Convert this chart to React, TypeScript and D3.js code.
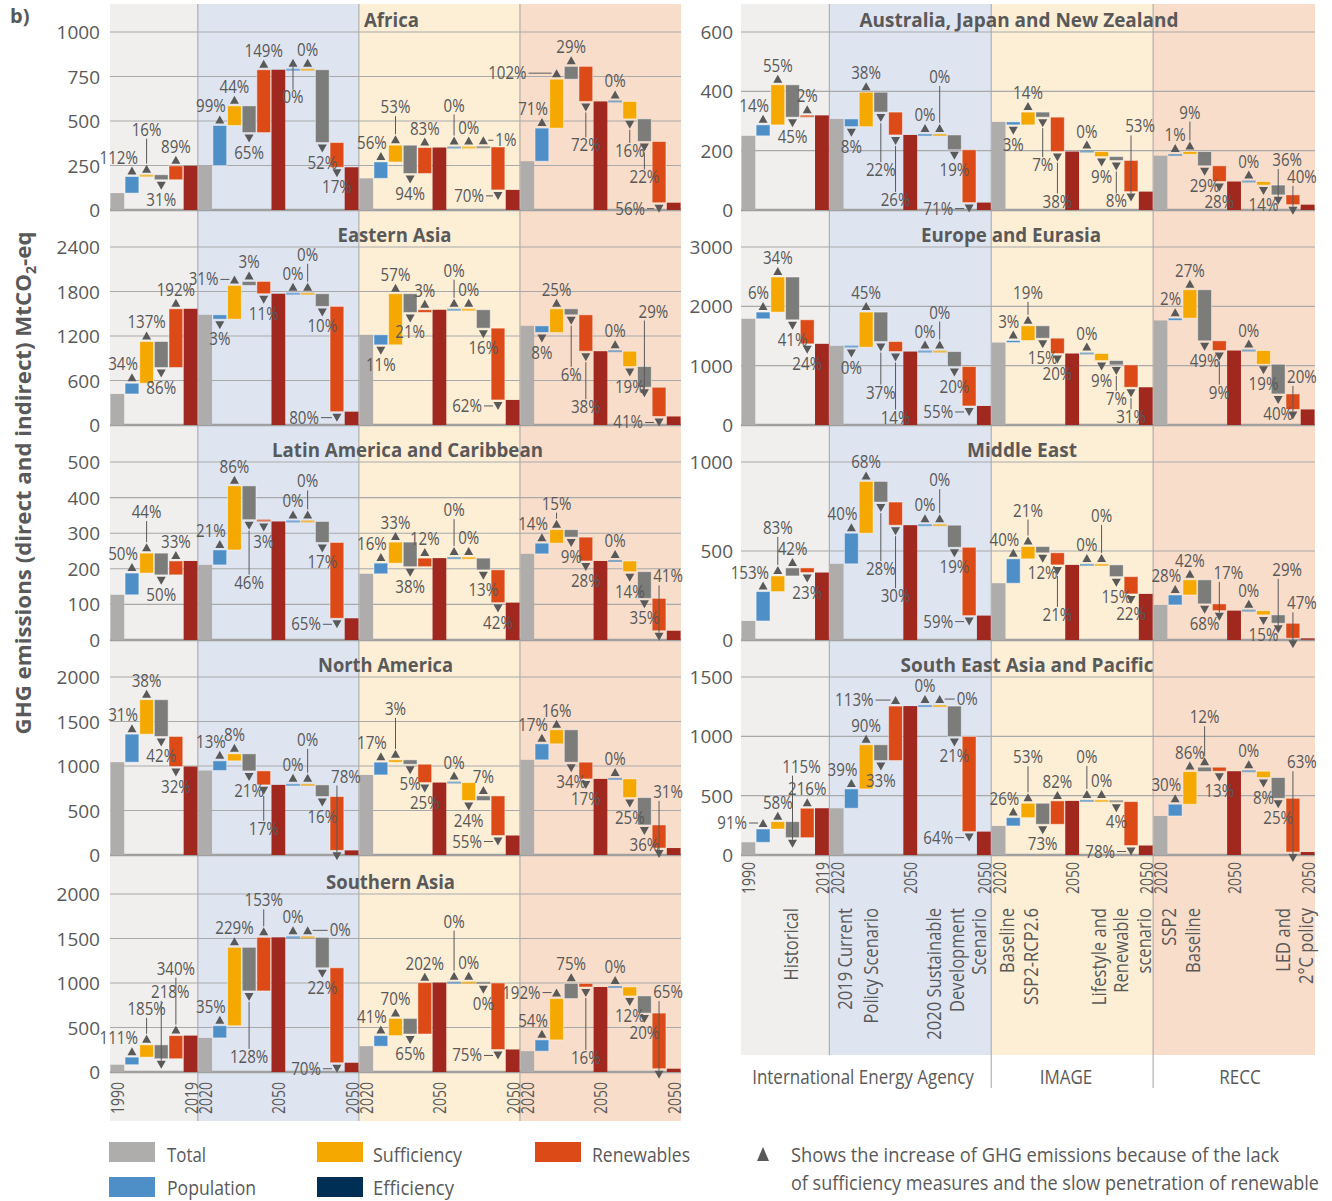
import React from "react";
import * as d3 from "d3";

const FONT = "'Open Sans', 'Noto Sans', 'DejaVu Sans', sans-serif";
const TEXT = "#595959";
const C_TOTAL = "#aeadab";
const C_POP = "#4f8fc8";
const C_SUFF = "#f5a800";
const C_EFF = "#7c7c7a";
const C_EFF_LEGEND = "#002f55";
const C_REN = "#dc4b17";
const C_END = "#a1281f";
const BG = ["#f0efed", "#dfe4f1", "#fdeed6", "#f8ddca"];
const GRID = "#a9a9a9";

// ---------------- categories / axis labels ----------------
const yearLabels = ["1990", "2019", "2020", "2050", "2050", "2020", "2050", "2050", "2020", "2050", "2050"];
const yearSlots = [0, 5, 6, 11, 16, 17, 22, 27, 28, 33, 38];
const modelLabels = ["International Energy Agency", "IMAGE", "RECC"];
const scenarioLines = [
  "Historical",
  "2019 Current", "Policy Scenario",
  "2020 Sustainable", "Development", "Scenario",
  "Baseline", "SSP2-RCP2.6",
  "Lifestyle and", "Renewable", "scenario",
  "SSP2", "Baseline",
  "LED and", "2°C policy",
];
const legendItems = ["Total", "Population", "Sufficiency", "Efficiency", "Renewables"];
const legendNote = [
  "Shows the increase of GHG emissions because of the lack",
  "of sufficiency measures and the slow penetration of renewable",
];

// ---------------- data (cumulative levels, MtCO2-eq) ----------------
// hist: [1990 total, +population, +sufficiency, +efficiency, +renewables = 2019]
// scenario: [2020, pop, suff, eff, ren(=2050 #1), pop, suff, eff, ren(=2050 #2)]
const africaTicks = [0, 250, 500, 750, 1000];
const africaHist = [95, 188, 198, 170, 248];
const africaIEA = [250, 475, 585, 435, 788, 788, 788, 379, 240];
const africaIMAGE = [178, 270, 364, 205, 351, 351, 351, 354, 113];
const africaRECC = [274, 460, 735, 807, 610, 610, 512, 385, 41];
const africaPct = [112, 16, 31, 89, 99, 44, 65, 149, 0, 0, 52, 17, 56, 53, 94, 83, 0, 0, 1, 70, 71, 102, 29, 72, 0, 16, 22, 56];

const eastAsiaTicks = [0, 600, 1200, 1800, 2400];
const eastAsiaHist = [419, 563, 1126, 775, 1567];
const eastAsiaIEA = [1486, 1427, 1882, 1936, 1770, 1770, 1770, 1599, 180];
const eastAsiaIMAGE = [1216, 1081, 1770, 1518, 1554, 1554, 1554, 1306, 338];
const eastAsiaRECC = [1337, 1247, 1567, 1486, 995, 995, 788, 509, 115];
const eastAsiaPct = [34, 137, 86, 192, 3, 31, 3, 11, 0, 0, 10, 80, 11, 57, 21, 3, 0, 0, 16, 62, 8, 25, 6, 38, 0, 19, 29, 41];

const latamTicks = [0, 100, 200, 300, 400, 500];
const latamHist = [127, 188, 244, 183, 222];
const latamIEA = [211, 253, 433, 338, 333, 333, 333, 274, 61];
const latamIMAGE = [186, 216, 275, 206, 230, 230, 230, 197, 105];
const latamRECC = [242, 272, 310, 289, 222, 222, 192, 117, 26];
const latamPct = [50, 44, 50, 33, 21, 86, 46, 3, 0, 0, 17, 65, 16, 33, 38, 12, 0, 0, 13, 42, 14, 15, 9, 28, 0, 14, 35, 41];

const northAmTicks = [0, 500, 1000, 1500, 2000];
const northAmHist = [1043, 1358, 1745, 1332, 994];
const northAmIEA = [949, 1058, 1137, 945, 788, 788, 788, 657, 52];
const northAmIMAGE = [900, 1043, 1069, 1020, 814, 814, 612, 664, 219];
const northAmRECC = [1069, 1249, 1407, 1043, 855, 855, 645, 338, 78];
const northAmPct = [31, 38, 42, 32, 13, 8, 21, 17, 0, 0, 16, 78, 17, 3, 5, 25, 0, 24, 7, 55, 17, 16, 34, 17, 0, 25, 36, 31];

const southAsiaTicks = [0, 500, 1000, 1500, 2000];
const southAsiaHist = [82, 167, 305, 149, 409];
const southAsiaIEA = [383, 520, 1401, 911, 1513, 1513, 1513, 1171, 104];
const southAsiaIMAGE = [290, 409, 602, 427, 1004, 1004, 1004, 1000, 253];
const southAsiaRECC = [234, 361, 825, 996, 955, 955, 855, 662, 37];
const southAsiaPct = [111, 185, 218, 340, 35, 229, 128, 153, 0, 0, 22, 70, 41, 70, 65, 202, 0, 0, 0, 75, 54, 192, 75, 16, 0, 12, 20, 65];

const ajnzTicks = [0, 200, 400, 600];
const ajnzHist = [250, 287, 422, 313, 319];
const ajnzIEA = [307, 281, 397, 330, 253, 253, 253, 203, 25];
const ajnzIMAGE = [297, 287, 330, 313, 197, 197, 180, 167, 62];
const ajnzRECC = [183, 188, 197, 149, 96, 96, 84, 51, 18];
const ajnzPct = [14, 55, 45, 2, 8, 38, 22, 26, 0, 0, 19, 71, 3, 14, 7, 38, 0, 9, 8, 53, 1, 9, 29, 28, 0, 14, 36, 40];

const europeTicks = [0, 1000, 2000, 3000];
const europeHist = [1790, 1903, 2494, 1773, 1368];
const europeIEA = [1334, 1311, 1903, 1407, 1238, 1238, 1238, 985, 321];
const europeIMAGE = [1390, 1424, 1672, 1463, 1205, 1205, 1086, 1013, 636];
const europeRECC = [1762, 1801, 2280, 1419, 1255, 1255, 1024, 524, 262];
const europePct = [6, 34, 41, 24, 0, 45, 37, 14, 0, 0, 20, 55, 3, 19, 15, 20, 0, 9, 7, 31, 2, 27, 49, 9, 0, 19, 40, 20];

const middleEastTicks = [0, 500, 1000];
const middleEastHist = [107, 272, 360, 405, 379];
const middleEastIEA = [428, 600, 891, 775, 645, 645, 645, 521, 137];
const middleEastIMAGE = [319, 456, 525, 490, 422, 422, 422, 356, 259];
const middleEastRECC = [197, 253, 338, 203, 165, 165, 141, 94, 10];
const middleEastPct = [153, 83, 42, 23, 40, 68, 28, 30, 0, 0, 19, 59, 40, 21, 12, 21, 0, 0, 15, 22, 28, 42, 68, 17, 0, 15, 29, 47];

const seaTicks = [0, 500, 1000, 1500];
const seaHist = [107, 219, 281, 146, 394];
const seaIEA = [394, 557, 929, 796, 1255, 1255, 1255, 999, 197];
const seaIMAGE = [245, 315, 436, 259, 456, 456, 456, 450, 80];
const seaRECC = [329, 428, 703, 740, 706, 706, 653, 478, 25];
const seaPct = [91, 58, 115, 216, 39, 90, 33, 113, 0, 0, 21, 64, 26, 53, 73, 82, 0, 0, 4, 78, 30, 86, 12, 13, 0, 8, 25, 63];

// ---------------- label layout (placement codes, not data) ----------------
const africaPos = ["l", "A25", "b", "a", "l", "a", "b", "a", "b19", "a", "b", "b", "l", "A18", "b", "a", "A21", "a", "R12", "L14", "l", "L30", "a", "B25", "a", "B13", "B17", "L14"];
const eastAsiaPos = ["l", "a", "b", "a", "b", "L", "a", "b", "a", "A18", "b", "L18", "b", "a", "b", "a", "A18", "a", "b", "L", "b", "a", "B41", "B37", "a", "b", "a41", "L"];
const latamPos = ["l", "A21", "b", "a", "l", "a", "B44", "b", "a", "A19", "b", "L", "l", "a", "b", "a", "A27", "a", "b", "b", "l", "A6", "b", "b", "a", "b", "b", "a8"];
const northAmPos = ["l", "a", "b", "b", "l", "a", "b", "B25", "a", "A24", "b", "a6", "l", "A31", "b", "b", "a", "b", "a", "L", "l", "a", "b", "b", "a", "b", "b", "a19"];
const southAsiaPos = ["l", "A16", "a39", "A47", "l", "a", "B47", "A17", "a", "R22", "b", "L", "l", "a", "b", "a", "A40", "a", "b", "L", "l", "L", "a", "B52", "a", "b", "b", "a7"];
const ajnzPos = ["l", "a", "b", "a", "b", "a", "B39", "B46", "a", "A37", "b", "L", "b", "a", "B29", "B31", "a", "b", "B22", "a20", "a", "A19", "b", "b", "a", "b", "a11", "a4"];
const europePos = ["l", "a", "b", "b", "b", "a", "B32", "B47", "a", "A18", "b", "L", "l", "A13", "b", "b", "a", "b", "B15", "B11", "l", "a", "b", "B23", "a", "b", "b", "a3"];
const middleEastPos = ["l", "A28", "a", "b", "l", "a", "B48", "B52", "a", "A24", "b", "L", "l", "A16", "b", "B31", "a", "A28", "b", "b", "l", "a", "b", "a17", "a", "b", "a31", "a6"];
const seaPos = ["L", "a", "a41", "a", "l", "a", "b", "L22", "a", "R17", "b", "L", "l", "A26", "b", "a", "A23", "a", "b", "L", "l", "a", "A30", "b", "a", "b", "b", "a22"];

const panels = [
  { name: "Africa", col: 0, row: 0, ticks: africaTicks, hist: africaHist, iea: africaIEA, image: africaIMAGE, recc: africaRECC, pct: africaPct, pos: africaPos, tdx: -4, tlen: 55 },
  { name: "Eastern Asia", col: 0, row: 1, ticks: eastAsiaTicks, hist: eastAsiaHist, iea: eastAsiaIEA, image: eastAsiaIMAGE, recc: eastAsiaRECC, pct: eastAsiaPct, pos: eastAsiaPos, tdx: -1, tlen: 114 },
  { name: "Latin America and Caribbean", col: 0, row: 2, ticks: latamTicks, hist: latamHist, iea: latamIEA, image: latamIMAGE, recc: latamRECC, pct: latamPct, pos: latamPos, tdx: 12, tlen: 271 },
  { name: "North America", col: 0, row: 3, ticks: northAmTicks, hist: northAmHist, iea: northAmIEA, image: northAmIMAGE, recc: northAmRECC, pct: northAmPct, pos: northAmPos, tdx: -10, tlen: 135 },
  { name: "Southern Asia", col: 0, row: 4, ticks: southAsiaTicks, hist: southAsiaHist, iea: southAsiaIEA, image: southAsiaIMAGE, recc: southAsiaRECC, pct: southAsiaPct, pos: southAsiaPos, tdx: -5, tlen: 129 },
  { name: "Australia, Japan and New Zealand", col: 1, row: 0, ticks: ajnzTicks, hist: ajnzHist, iea: ajnzIEA, image: ajnzIMAGE, recc: ajnzRECC, pct: ajnzPct, pos: ajnzPos, tdx: -9, tlen: 319 },
  { name: "Europe and Eurasia", col: 1, row: 1, ticks: europeTicks, hist: europeHist, iea: europeIEA, image: europeIMAGE, recc: europeRECC, pct: europePct, pos: europePos, tdx: -17, tlen: 180 },
  { name: "Middle East", col: 1, row: 2, ticks: middleEastTicks, hist: middleEastHist, iea: middleEastIEA, image: middleEastIMAGE, recc: middleEastRECC, pct: middleEastPct, pos: middleEastPos, tdx: -6, tlen: 110 },
  { name: "South East Asia and Pacific", col: 1, row: 3, ticks: seaTicks, hist: seaHist, iea: seaIEA, image: seaIMAGE, recc: seaRECC, pct: seaPct, pos: seaPos, tdx: -1, tlen: 253 },
];

// ---------------- layout ----------------
const W = 1332;
const H = 1201;
const ROW_TOP = [32, 247, 462, 677, 894];
const PANEL_H = 178;
const COLS = [
  { x0: 110, x1: 681, tickX: 100, bgBottom: 1121 },
  { x0: 741, x1: 1315, tickX: 733, bgBottom: 1055 },
];
const N_SLOTS = 39;
const SECTION_START = [0, 6, 17, 28];
const PAD_IN = 0.06;

function makeX(col: number) {
  const c = COLS[col];
  return d3.scaleBand<number>().domain(d3.range(N_SLOTS)).range([c.x0, c.x1]).paddingInner(PAD_IN).paddingOuter(PAD_IN / 2);
}

function boundaries(col: number) {
  const x = makeX(col);
  const c = COLS[col];
  const step = x.step();
  const b = SECTION_START.slice(1).map((s) => (x(s) as number) - (step * PAD_IN) / 2);
  return [c.x0, ...b, c.x1];
}

const KIND_COLOR: Record<string, string> = {
  total: C_TOTAL,
  pop: C_POP,
  suff: C_SUFF,
  eff: C_EFF,
  ren: C_REN,
  end: C_END,
};

function buildBars(p: any) {
  const out: any[] = [];
  const kinds = ["pop", "suff", "eff", "ren"];
  const h = p.hist;
  out.push({ slot: 0, a: 0, b: h[0], kind: "total" });
  for (let k = 0; k < 4; k++) out.push({ slot: 1 + k, a: h[k], b: h[k + 1], kind: kinds[k], change: true });
  out.push({ slot: 5, a: 0, b: h[4], kind: "end" });
  [p.iea, p.image, p.recc].forEach((s: number[], si: number) => {
    const o = 6 + si * 11;
    out.push({ slot: o, a: 0, b: s[0], kind: "total" });
    for (let k = 0; k < 4; k++) out.push({ slot: o + 1 + k, a: s[k], b: s[k + 1], kind: kinds[k], change: true });
    out.push({ slot: o + 5, a: 0, b: s[4], kind: "end" });
    for (let k = 0; k < 4; k++) out.push({ slot: o + 6 + k, a: s[4 + k], b: s[5 + k], kind: kinds[k], change: true });
    out.push({ slot: o + 10, a: 0, b: s[8], kind: "end" });
  });
  return out;
}

function T(props: any) {
  const { x, y, children, size = 17, anchor = "middle", sx = 1, weight = 400, rotate = 0, fill = TEXT, len } = props;
  let tr = `translate(${x},${y})`;
  if (rotate) tr += ` rotate(${rotate})`;
  if (sx !== 1) tr += ` scale(${sx},1)`;
  return (
    <text
      transform={tr}
      fontSize={size}
      textAnchor={anchor}
      fontWeight={weight}
      fill={fill}
      fontFamily={FONT}
      textLength={len}
      lengthAdjust={len ? "spacingAndGlyphs" : undefined}
    >
      {children}
    </text>
  );
}

function PanelView({ p }: { p: any }) {
  const c = COLS[p.col];
  const x = makeX(p.col);
  const bw = x.bandwidth();
  const top = ROW_TOP[p.row];
  const bottom = top + PANEL_H;
  const maxV = p.ticks[p.ticks.length - 1];
  const y = d3.scaleLinear().domain([0, maxV]).range([bottom, top]);
  const bars = buildBars(p);

  const rects: any[] = [];
  const lines: any[] = [];
  const tris: any[] = [];
  const texts: any[] = [];
  let ci = 0;

  bars.forEach((b: any, i: number) => {
    const bx = x(b.slot) as number;
    const cx = bx + bw / 2;
    let yT = y(Math.max(b.a, b.b));
    let yB = y(Math.min(b.a, b.b));
    let tiny = false;
    if (yB - yT < 2) {
      const m = (yT + yB) / 2;
      yT = m - 1;
      yB = m + 1;
      tiny = true;
    }
    rects.push(
      <rect
        key={"r" + i}
        x={bx}
        y={yT}
        width={bw}
        height={yB - yT}
        fill={KIND_COLOR[b.kind]}
        fillOpacity={tiny ? 0.7 : 1}
        stroke={b.change && !tiny ? "rgba(255,255,255,0.45)" : "none"}
        strokeWidth={1}
      />
    );
    if (!b.change) return;
    const up = b.b >= b.a;
    const pct = p.pct[ci];
    const tok: string = p.pos[ci];
    ci++;
    const mode = tok[0];
    const num = tok.length > 1 ? parseFloat(tok.slice(1)) : NaN;
    const ty = up ? yT - 6 : yB + 6;
    tris.push(
      <path
        key={"t" + i}
        d={
          up
            ? `M${cx - 4.5},${ty + 4}L${cx + 4.5},${ty + 4}L${cx},${ty - 4}Z`
            : `M${cx - 4.5},${ty - 4}L${cx + 4.5},${ty - 4}L${cx},${ty + 4}Z`
        }
        fill={TEXT}
      />
    );
    let tx = cx;
    let tby = 0;
    let anchor = "middle";
    const ln: number[][] = [];
    if (mode === "a" || mode === "A") {
      if (up) {
        if (mode === "a") tby = ty - 7;
        else {
          const L = isNaN(num) ? 25 : num;
          ln.push([cx, ty - 5, cx, ty - 5 - L]);
          tby = ty - 5 - L - 3;
        }
      } else {
        const L = isNaN(num) ? 8 : num;
        tby = yT - L - 8;
        tx = cx + 9;
        ln.push([cx, tby + 3, cx, ty - 4]);
      }
    } else if (mode === "b" || mode === "B") {
      if (!up) {
        if (mode === "b") tby = ty + 20;
        else {
          const L = isNaN(num) ? 25 : num;
          ln.push([cx, ty + 5, cx, ty + 5 + L]);
          tby = ty + 5 + L + 14;
        }
      } else {
        const L = isNaN(num) ? 19 : num;
        ln.push([cx, ty + 4, cx, yB + L]);
        tby = yB + L + 13;
      }
    } else if (mode === "l") {
      tx = cx + 6;
      anchor = "end";
      tby = up ? ty - 7 : ty + 20;
    } else if (mode === "L") {
      const g = isNaN(num) ? 16 : num;
      tx = cx - g;
      anchor = "end";
      tby = ty + 6;
      ln.push([cx - g + 2, ty, cx - 5, ty]);
    } else if (mode === "R") {
      const g = isNaN(num) ? 12 : num;
      tx = cx + g;
      anchor = "start";
      tby = ty + 6;
      ln.push([cx + 5, ty, cx + g - 2, ty]);
    }
    ln.forEach((l, k) =>
      lines.push(<line key={"l" + i + "_" + k} x1={l[0]} y1={l[1]} x2={l[2]} y2={l[3]} stroke={TEXT} strokeWidth={1} />)
    );
    texts.push(
      <T key={"x" + i} x={tx} y={tby} anchor={anchor} size={18} sx={0.84}>
        {pct + "%"}
      </T>
    );
  });

  const cx = (c.x0 + c.x1) / 2 + p.tdx;
  return (
    <g>
      {p.ticks.map((t: number) => (
        <g key={"g" + t}>
          {t !== 0 && <line x1={c.x0} x2={c.x1} y1={y(t)} y2={y(t)} stroke={GRID} strokeWidth={1.1} />}
          <T x={c.tickX} y={y(t) + 7} anchor="end" size={19}>
            {String(t)}
          </T>
        </g>
      ))}
      <line x1={c.x0} x2={c.x1} y1={y(0)} y2={y(0)} stroke="#a0a0a0" strokeWidth={2.6} />
      {rects}
      {lines}
      {tris}
      {texts}
      <T x={cx} y={top - 5.5} size={19} weight={700} len={p.tlen}>
        {p.name}
      </T>
    </g>
  );
}

function Backgrounds() {
  const out: any[] = [];
  [0, 1].forEach((col) => {
    const b = boundaries(col);
    const c = COLS[col];
    for (let i = 0; i < 4; i++) {
      out.push(<rect key={`bg${col}${i}`} x={b[i]} y={4} width={b[i + 1] - b[i]} height={c.bgBottom - 4} fill={BG[i]} />);
    }
    for (let i = 1; i < 4; i++) {
      const yEnd = col === 1 && i > 1 ? 1088 : c.bgBottom;
      out.push(<line key={`sl${col}${i}`} x1={b[i]} x2={b[i]} y1={4} y2={yEnd} stroke="#a3a3a3" strokeWidth={1} />);
    }
  });
  return <g>{out}</g>;
}

function XAxes() {
  const out: any[] = [];
  [0, 1].forEach((col) => {
    const x = makeX(col);
    const bw = x.bandwidth();
    const yEnd = col === 0 ? 1082 : 862;
    yearSlots.forEach((s, i) => {
      const cx = (x(s) as number) + bw / 2;
      out.push(
        <T key={`yr${col}${i}`} x={cx + 7} y={yEnd} anchor="end" size={19} rotate={-90} len={32}>
          {yearLabels[i]}
        </T>
      );
    });
  });
  // scenario labels (right column)
  const c = COLS[1];
  const step = (c.x1 - c.x0) / N_SLOTS;
  const lineSlots = [3.4, 7.1, 8.8, 13.1, 14.7, 16.2, 18.1, 19.7, 24.3, 25.8, 27.4, 29.1, 30.7, 36.8, 38.4];
  scenarioLines.forEach((s, i) => {
    out.push(
      <T key={`sc${i}`} x={c.x0 + lineSlots[i] * step + 7} y={908} anchor="end" size={20} rotate={-90} sx={0.83}>
        {s}
      </T>
    );
  });
  const mx = [863, 1066, 1240];
  modelLabels.forEach((m, i) => {
    out.push(
      <T key={`ml${i}`} x={mx[i]} y={1084} size={20} sx={0.85}>
        {m}
      </T>
    );
  });
  return <g>{out}</g>;
}

function Legend() {
  const sw = [
    { x: 109, y: 1142, c: C_TOTAL, tx: 167, ty: 1162, len: 39 },
    { x: 109, y: 1177, c: C_POP, tx: 167, ty: 1195, len: 89 },
    { x: 317, y: 1142, c: C_SUFF, tx: 373, ty: 1162, len: 89 },
    { x: 317, y: 1177, c: C_EFF_LEGEND, tx: 373, ty: 1195, len: 81 },
    { x: 535, y: 1142, c: C_REN, tx: 592, ty: 1162, len: 98 },
  ];
  return (
    <g>
      {sw.map((s, i) => (
        <g key={"lg" + i}>
          <rect x={s.x} y={s.y} width={46} height={20} fill={s.c} />
          <T x={s.tx} y={s.ty} anchor="start" size={20} len={s.len}>
            {legendItems[i]}
          </T>
        </g>
      ))}
      <path d="M757,1161L769,1161L763,1147Z" fill={TEXT} />
      <T x={791} y={1162} anchor="start" size={20} len={488}>
        {legendNote[0]}
      </T>
      <T x={791} y={1190} anchor="start" size={20} len={528}>
        {legendNote[1]}
      </T>
    </g>
  );
}

export default function App() {
  return (
    <svg
      width={W}
      height={H}
      viewBox={`0 0 ${W} ${H}`}
      style={{ position: "absolute", left: 0, top: 0, background: "#fff" }}
      fontFamily={FONT}
    >
      <rect width={W} height={H} fill="#fff" />
      <Backgrounds />
      {panels.map((p) => (
        <PanelView key={p.name} p={p} />
      ))}
      <XAxes />
      <Legend />
      <T x={10} y={23} anchor="start" size={20} weight={700}>
        b)
      </T>
      <text
        transform="translate(31,483) rotate(-90)"
        textAnchor="middle"
        fontSize={22}
        fontWeight={700}
        fill={TEXT}
        fontFamily={FONT}
        textLength={503}
        lengthAdjust="spacingAndGlyphs"
      >
        GHG emissions (direct and indirect) MtCO
        <tspan fontSize={14} dy={5}>
          2
        </tspan>
        <tspan dy={-5}>-eq</tspan>
      </text>
    </svg>
  );
}
